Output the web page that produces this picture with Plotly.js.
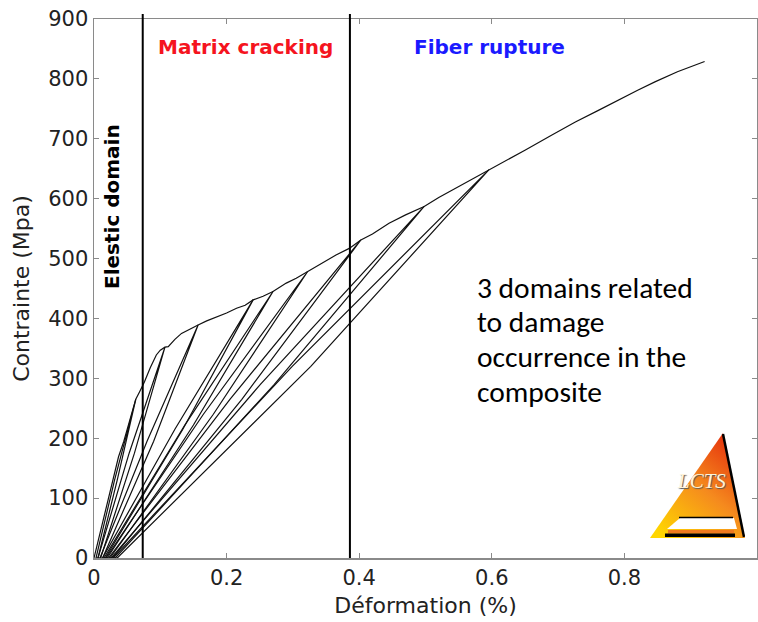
<!DOCTYPE html>
<html>
<head>
<meta charset="utf-8">
<script src="https://cdn.plot.ly/plotly-3.0.1.min.js"></script>
<style>html,body{margin:0;padding:0;background:#fff;}#chart{width:758px;height:622px;}</style>
</head>
<body>
<div id="chart"></div>
<script>
// Monotonic loading envelope (strain %, stress MPa)
const envStrain = [0, 0.010, 0.020, 0.030, 0.037, 0.045, 0.055, 0.063, 0.069, 0.076, 0.085, 0.094, 0.100, 0.107, 0.112, 0.122, 0.132, 0.145, 0.157, 0.170, 0.187, 0.200, 0.215, 0.228, 0.240, 0.255, 0.270, 0.290, 0.305, 0.322, 0.345, 0.365, 0.385, 0.4025, 0.420, 0.445, 0.470, 0.498, 0.520, 0.545, 0.570, 0.5955, 0.620, 0.650, 0.690, 0.726, 0.760, 0.786, 0.820, 0.846, 0.880, 0.921];
const envStress = [0, 45, 90, 138, 169, 195, 235, 265, 278, 294, 318, 339, 347, 352, 353, 365, 375, 383, 389, 396, 403, 409, 417, 422, 431, 437, 445, 459, 467, 478, 492, 506, 517, 531, 541, 559, 573, 587, 602, 617, 633, 648, 662, 681, 706, 728, 747, 762, 781, 795, 812, 829];

// Unload / reload loops: peak -> unload mid -> residual -> reload start -> reload mid -> peak
const loopStrain = [
  [0.063, 0.031, 0.003, 0.006, 0.035, 0.063],
  [0.107, 0.053, 0.006, 0.010, 0.061, 0.107],
  [0.157, 0.080, 0.009, 0.013, 0.090, 0.157],
  [0.240, 0.122, 0.013, 0.017, 0.134, 0.240],
  [0.270, 0.137, 0.015, 0.020, 0.150, 0.270],
  [0.322, 0.165, 0.018, 0.024, 0.180, 0.322],
  [0.4025, 0.205, 0.022, 0.028, 0.223, 0.4025],
  [0.498, 0.251, 0.026, 0.032, 0.272, 0.498],
  [0.5955, 0.299, 0.029, 0.035, 0.327, 0.5955]
];
const loopStress = [
  [265, 130, 0, 0, 130, 265],
  [352, 175, 0, 0, 175, 352],
  [389, 195, 0, 0, 195, 389],
  [431, 215, 0, 0, 215, 431],
  [445, 222, 0, 0, 222, 445],
  [478, 240, 0, 0, 240, 478],
  [531, 265, 0, 0, 265, 531],
  [587, 290, 0, 0, 290, 587],
  [648, 320, 0, 0, 320, 648]
];

// Domain boundaries (strain %)
const domainBounds = [0.0735, 0.386];
const xTicks = [0, 0.2, 0.4, 0.6, 0.8, 1];
const xTickText = ['0', '0.2', '0.4', '0.6', '0.8', '1'];
const yTicks = [0, 100, 200, 300, 400, 500, 600, 700, 800, 900];

const lineStyle = {color: '#111', width: 1.2};
const traces = [{
  x: envStrain, y: envStress, type: 'scatter', mode: 'lines',
  line: lineStyle, hoverinfo: 'skip'
}];
loopStrain.forEach((lx, i) => {
  traces.push({x: lx, y: loopStress[i], type: 'scatter', mode: 'lines', line: lineStyle, hoverinfo: 'skip'});
});

const W = 758, H = 622, L = 94, R = 1, T = 19, B = 64;
const pw = W - L - R, ph = H - T - B;
const px = v => (v - L) / pw;
const py = v => (H - B - v) / ph;

const shapes = domainBounds.map(b => ({
  type: 'line', xref: 'x', yref: 'paper', x0: b, x1: b, y0: 0, y1: py(14),
  line: {color: '#000', width: 2}
}));

const logoSvg = '<svg xmlns="http://www.w3.org/2000/svg" viewBox="0 0 95 105" preserveAspectRatio="none">' +
  '<defs><linearGradient id="g" x1="0.9" y1="0" x2="0.15" y2="1">' +
  '<stop offset="0" stop-color="#e3260a"/><stop offset="0.5" stop-color="#f58a1e"/><stop offset="1" stop-color="#ffd600"/></linearGradient></defs>' +
  '<polygon points="73,0 95,105 0,105" fill="url(#g)"/>' +
  '<polyline points="73,1 94,104" stroke="#000" stroke-width="2.5" fill="none"/>' +
  '<polygon points="30,85 84,85 87,96 17,96" fill="#fff"/>' +
  '<line x1="29" y1="84.5" x2="83" y2="84.5" stroke="#000" stroke-width="1.6"/>' +
  '<rect x="18" y="97" width="66" height="3.5" fill="#f07a20"/>' +
  '<rect x="15" y="100.5" width="70" height="3.5" fill="#000"/>' +
  '</svg>';

const SANS = 'DejaVu Sans, Liberation Sans, Arial, sans-serif';
const noteLines = ['3 domains related', 'to damage', 'occurrence in the', 'composite'];
const noteBaselines = [300, 334, 369, 404];

const annotations = [
  {text: '<b>Matrix cracking</b>', xref: 'paper', yref: 'paper', x: px(245.5), y: py(47), xanchor: 'center', yanchor: 'middle', showarrow: false,
   font: {family: SANS, size: 20, color: '#f5141e'}},
  {text: '<b>Fiber rupture</b>', xref: 'paper', yref: 'paper', x: px(489), y: py(47), xanchor: 'center', yanchor: 'middle', showarrow: false,
   font: {family: SANS, size: 20, color: '#1a1aff'}},
  {text: '<b>Elestic domain</b>', xref: 'paper', yref: 'paper', x: px(112), y: py(207), xanchor: 'center', yanchor: 'middle', showarrow: false, textangle: -90,
   font: {family: SANS, size: 20, color: '#000'}},
  {text: 'LCTS', xref: 'paper', yref: 'paper', x: px(701), y: py(481), xanchor: 'center', yanchor: 'middle', showarrow: false,
   font: {family: 'Liberation Serif, Times New Roman, serif', size: 21, color: '#fff3d8', style: 'italic', shadow: '1px 1px 1px #555'}}
];
noteLines.forEach((t, i) => {
  annotations.push({text: t, xref: 'paper', yref: 'paper', x: px(475), y: py(noteBaselines[i] + 8), xanchor: 'left', yanchor: 'bottom',
    showarrow: false, font: {family: 'Carlito, Calibri, Lato, sans-serif', size: 29.5, color: '#000'}});
});

const axisCommon = {
  showgrid: false, zeroline: false, showline: true, linecolor: '#8a8a8a', linewidth: 1.5,
  mirror: 'ticks', ticks: 'inside', ticklen: 5, tickcolor: '#8a8a8a', tickwidth: 1,
  tickfont: {family: SANS, size: 21, color: '#222'},
  automargin: false, fixedrange: true
};

const layout = {
  width: W, height: H,
  margin: {l: L, r: R, t: T, b: B},
  paper_bgcolor: '#fff', plot_bgcolor: '#fff',
  showlegend: false,
  xaxis: Object.assign({}, axisCommon, {
    range: [0, 1], tickvals: xTicks, ticktext: xTickText,
    title: {text: 'Déformation (%)', standoff: 9, font: {family: SANS, size: 22, color: '#222'}}
  }),
  yaxis: Object.assign({}, axisCommon, {
    range: [0, 900], tickvals: yTicks,
    title: {text: 'Contrainte (Mpa)', standoff: 12, font: {family: SANS, size: 22, color: '#222'}}
  }),
  shapes: shapes,
  annotations: annotations,
  images: [{
    source: 'data:image/svg+xml;charset=utf-8,' + encodeURIComponent(logoSvg),
    xref: 'paper', yref: 'paper', x: px(650), y: py(433), sizex: 95 / pw, sizey: 105 / ph,
    xanchor: 'left', yanchor: 'top', sizing: 'stretch', layer: 'above'
  }]
};

Plotly.newPlot('chart', traces, layout, {displayModeBar: false, staticPlot: true});
</script>
</body>
</html>
